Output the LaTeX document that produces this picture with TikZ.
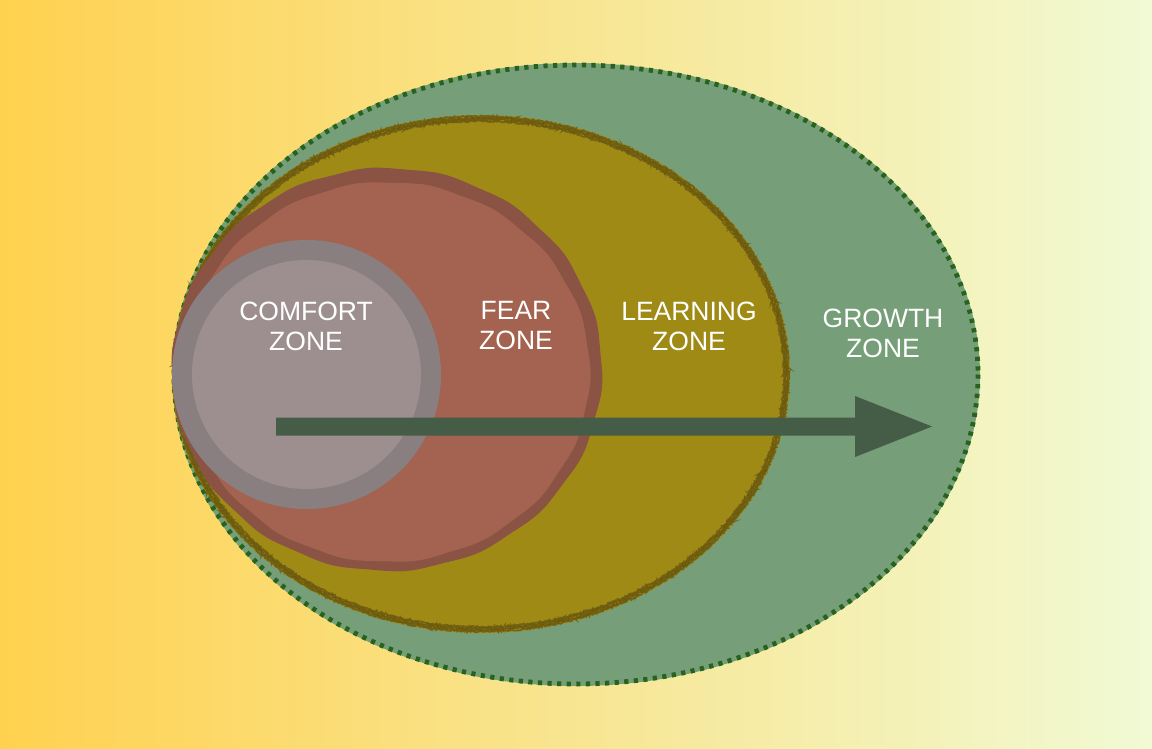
\documentclass[tikz,border=0pt]{standalone}
\usepackage{fontspec}
\setmainfont{Liberation Sans}
\usetikzlibrary{decorations.pathmorphing}

\definecolor{bgleft}{HTML}{FFD14F}
\definecolor{bgright}{HTML}{F1FAD4}
\definecolor{growthfill}{HTML}{769E78}
\definecolor{growthline}{HTML}{26641E}
\definecolor{learnfill}{HTML}{9F8A16}
\definecolor{learnline}{HTML}{6A5810}
\definecolor{fearline}{HTML}{8A5343}
\definecolor{fearfill}{HTML}{A36350}
\definecolor{comfortline}{HTML}{8A7F80}
\definecolor{comfortfill}{HTML}{9D8F90}
\definecolor{arrowcol}{HTML}{455C47}

\begin{document}
\begin{tikzpicture}[x=1pt,y=-1pt,
    zonelabel/.style={text=white, align=center, inner sep=0pt,
        font=\fontsize{26.5}{30}\selectfont},
    roughline/.style={learnline, line width=1.6pt, decorate,
        decoration={random steps, segment length=1pt, amplitude=1pt}}]
    \pgfmathsetseed{7}
    \useasboundingbox (0,0) rectangle (1152,748);
    \shade[left color=bgleft, right color=bgright] (0,0) rectangle (1152,748);
    % growth zone
    \fill[growthfill] (576,374.5) ellipse [x radius=404, y radius=311.5];
    \draw[growthline, line width=4.8pt, dash pattern=on 4.2pt off 5.4pt] (576,374.5) ellipse [x radius=402, y radius=309.5];
    % learning zone
    \fill[learnfill] (481,374) ellipse [x radius=309, y radius=259];
    \foreach \r in {-2.5,-1,0.5,2}
        \draw[roughline, opacity=.8] (481,374) ellipse [x radius=305.5+\r, y radius=255.5+\r];
    % fear zone (slightly wavy)
    \fill[fearline] plot[smooth cycle, domain=0:357.5, samples=144]
        ({387+215*(1+.004*sin(18*\x))*cos(\x)},
         {369.5+201.5*(1+.004*sin(18*\x))*sin(\x)});
    \fill[fearfill] plot[smooth cycle, domain=0:357.5, samples=144]
        ({387+203*(1+.004*sin(18*\x+60))*cos(\x)},
         {372+190*(1+.004*sin(18*\x+60))*sin(\x)});
    % comfort zone
    \fill[comfortline] (306.5,374.5) circle [radius=134.5];
    \fill[comfortfill] (306.5,374.5) circle [radius=114.5];
    % arrow
    \fill[arrowcol] (276,417.5) -- (855,417.5) -- (855,396) -- (932,426.5) -- (855,457) -- (855,435.5) -- (276,435.5) -- cycle;
    % labels
    \node[zonelabel] (comfort) at (306,326) {COMFORT\\ZONE};
    \node[zonelabel] (fear) at (516,326) {FEAR\\ZONE};
    \node[zonelabel] (learning) at (689,326) {LEARNING\\ZONE};
    \node[zonelabel] (growth) at (883,333) {GROWTH\\ZONE};
\end{tikzpicture}
\end{document}
